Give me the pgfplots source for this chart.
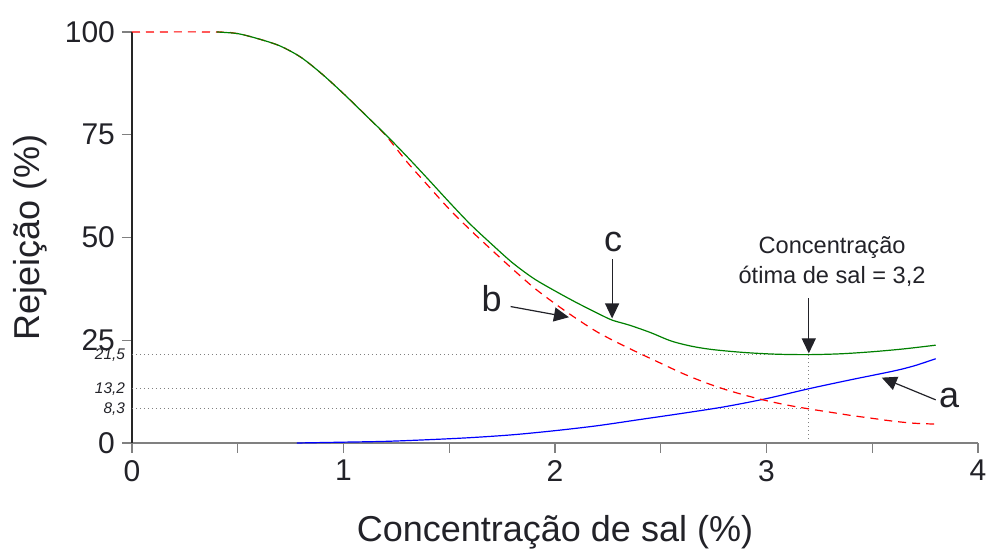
\documentclass[border=0pt]{standalone}
\usepackage{fontspec}
\setmainfont{Liberation Sans}
\usepackage{pgfplots}
\pgfplotsset{compat=1.18}
\usetikzlibrary{arrows.meta}
\definecolor{cgreen}{RGB}{0,128,0}
\definecolor{cblue}{RGB}{0,0,255}
\definecolor{cred}{RGB}{255,0,0}
\definecolor{ctext}{RGB}{34,34,40}
\begin{document}
\begin{tikzpicture}
\path[use as bounding box] (-66pt,-53.5pt) rectangle (429.5pt,221.5pt);
\begin{axis}[
  at={(0,0)}, anchor=south west,
  scale only axis, width=423pt, height=205.5pt,
  xmin=0, xmax=4, ymin=0, ymax=100,
  axis x line=bottom, axis y line=left,
  x axis line style={-, draw=gray, line width=0.9pt},
  y axis line style={-, draw=black!85, line width=0.6pt},
  xtick={0,1,2,3,4}, minor xtick={0.5,1.5,2.5,3.5},
  ytick={0,25,50,75,100},
  tick align=outside,
  major tick length=5pt, minor tick length=5pt,
  tick style={draw=gray, line width=0.7pt},
  tick label style={font=\fontsize{15}{18}\selectfont, text=ctext},
  /pgf/number format/assume math mode=true,
  extra y ticks={8.3,13.2,21.5},
  extra y tick labels={{8,3},{13,2},{21,5}},
  extra y tick style={tick style={draw=none}, yticklabel style={font=\fontsize{7.7}{9}\selectfont\itshape, xshift=5pt}},
  xlabel={Concentração de sal (\%)}, ylabel={Rejeição (\%)},
  label style={font=\fontsize{18}{21}\selectfont, text=ctext},
  xlabel style={yshift=-10pt},
  ylabel style={yshift=-8pt},
  clip=false,
  every axis plot/.append style={line width=0.6pt},
]
% dotted guide lines
\draw[gray, line width=0.6pt, dash pattern=on 0.6pt off 1.4pt] (axis cs:0,21.5) -- (axis cs:3.2,21.5);
\draw[gray, line width=0.6pt, dash pattern=on 0.6pt off 1.4pt] (axis cs:0,13.2) -- (axis cs:3.2,13.2);
\draw[gray, line width=0.6pt, dash pattern=on 0.6pt off 1.4pt] (axis cs:0,8.3) -- (axis cs:3.2,8.3);
\draw[gray, line width=0.6pt, dash pattern=on 0.6pt off 1.4pt] (axis cs:3.2,0) -- (axis cs:3.2,21.5);
% a
\addplot[cblue, smooth, no markers] coordinates {
(0.78,0) (1.00,0.2) (1.20,0.4) (1.40,0.8) (1.60,1.3) (1.80,2.0) (2.00,3.0)
(2.20,4.2) (2.40,5.7) (2.60,7.2) (2.80,8.8) (3.00,10.8) (3.20,13.2)
(3.40,15.4) (3.60,17.5) (3.70,18.8) (3.80,20.5)};
% b
\addplot[cred, smooth, no markers, dash pattern=on 4pt off 3pt] coordinates {
(0.00,100) (0.40,100) (0.50,99.6) (0.60,98.3) (0.70,96.6) (0.80,93.8)
(0.90,89.7) (1.00,85.0) (1.10,80.0) (1.20,74.8) (1.30,68.4) (1.40,62.6)
(1.50,56.9) (1.60,51.8) (1.70,47.0) (1.80,42.3) (1.90,37.8) (2.00,33.9)
(2.10,30.3) (2.20,27.0) (2.30,24.3) (2.40,21.8) (2.50,19.4) (2.60,17.0)
(2.70,14.9) (2.80,13.1) (2.90,11.6) (3.00,10.3) (3.10,9.2) (3.20,8.3)
(3.30,7.5) (3.40,6.7) (3.50,6.0) (3.60,5.3) (3.70,4.8) (3.80,4.6)};
% c
\addplot[cgreen, smooth, no markers] coordinates {
(0.40,100) (0.50,99.6) (0.60,98.3) (0.70,96.6) (0.80,93.8) (0.90,89.7)
(1.00,85.0) (1.10,80.0) (1.20,75.0) (1.30,69.7) (1.40,64.2) (1.50,58.6)
(1.60,53.2) (1.70,48.4) (1.80,43.8) (1.90,40.0) (2.00,37.0) (2.10,34.2)
(2.20,31.6) (2.27,29.9) (2.35,28.7) (2.45,26.9) (2.55,24.8) (2.65,23.5)
(2.75,22.7) (2.90,22.0) (3.05,21.6) (3.20,21.5) (3.35,21.7) (3.50,22.2)
(3.65,22.9) (3.80,23.8)};
% annotations
\tikzset{annarrow/.style={draw=ctext, line width=0.6pt, -{Triangle[length=7.5pt,width=7pt]}}}
\node[font=\fontsize{18}{21}\selectfont, text=ctext] at (axis cs:2.275,49) {c};
\draw[annarrow] (axis cs:2.27,44.7) -- (axis cs:2.27,30.3);
\node[font=\fontsize{18}{21}\selectfont, text=ctext] at (axis cs:1.70,35.2) {b};
\draw[annarrow] (axis cs:1.79,33.2) -- (axis cs:2.066,30.6);
\node[font=\fontsize{18}{21}\selectfont, text=ctext] at (axis cs:3.863,11.0) {a};
\draw[annarrow] (axis cs:3.80,10.5) -- (axis cs:3.545,15.9);
\node[font=\fontsize{11.8}{15}\selectfont, text=ctext, align=center] at (axis cs:3.31,44.2) {Concentração\\ótima de sal = 3,2};
\draw[annarrow] (axis cs:3.2,35.2) -- (axis cs:3.2,21.8);
\end{axis}
\end{tikzpicture}
\end{document}
